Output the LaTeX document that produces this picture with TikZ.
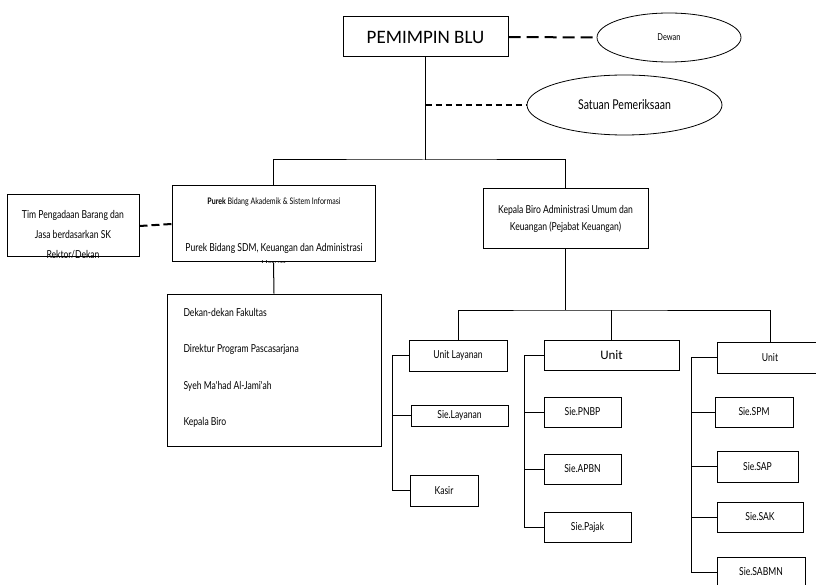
\documentclass[tikz,border=0pt]{standalone}
\usepackage{fontspec}
\setmainfont{Carlito}
\newfontfamily\condfont[FakeStretch=0.78]{Lato}
\usetikzlibrary{positioning}
\usetikzlibrary{shapes.geometric}

\begin{document}
\begin{tikzpicture}
  [x=1pt, y=-1pt, line width=1pt,
   box/.style = {draw, inner sep=0pt},
   oval/.style = {ellipse, draw, line width=0.8pt, inner sep=0pt},
   txt/.style = {font=\condfont\fontsize{11}{17.5}\selectfont, inner sep=0pt},
   dashline/.style = {dashed, line width=2pt}]
  \useasboundingbox (0,0) rectangle (816,585);

  % top
  \node (pemimpin) [box, minimum width=165, minimum height=40,
    font=\fontsize{19}{19}\selectfont] at (425.5,37) {PEMIMPIN BLU};
  \node (dewan) [oval, minimum width=144, minimum height=49,
    font=\condfont\fontsize{9.5}{9.5}\selectfont] at (669,37.5) {Dewan};
  \node (satuan) [oval, minimum width=195, minimum height=60,
    font=\condfont\fontsize{13.5}{13.5}\selectfont] at (624.5,105) {Satuan Pemeriksaan};
  \coordinate (split) at (424,160);

  \draw [dashline, dash pattern=on 12pt off 6pt] (pemimpin.east) -- (dewan.west);
  \draw [dashline, line width=1.6pt, dash pattern=on 6pt off 4pt]
    (pemimpin.south |- satuan.west) -- (satuan.west);
  \draw (pemimpin.south) -- (pemimpin.south |- split);

  % second level
  \node (tim) [box, minimum width=132, minimum height=62] at (73,226) {};
  \begin{scope}
    \clip (tim.south west) rectangle (tim.north east);
    \node [txt, align=center, font=\condfont\fontsize{11}{20}\selectfont] at (73,235)
      {Tim Pengadaan Barang dan\\Jasa berdasarkan SK\\Rektor/Dekan};
  \end{scope}

  \node (purek) [box, minimum width=203, minimum height=76] at (273.5,224) {};
  \begin{scope}
    \clip (purek.south west) rectangle (purek.north east);
    \node [txt, font=\condfont\fontsize{9}{9}\selectfont] at (274,202)
      {{\bfseries Purek} Bidang Akademik \& Sistem Informasi};
    \node [txt, align=center] at (274,256)
      {Purek Bidang SDM, Keuangan dan Administrasi\\Umum};
  \end{scope}

  \node (kepala) [box, minimum width=165, minimum height=60] at (565.5,219) {};
  \node [txt, align=center] at (kepala) {Kepala Biro Administrasi Umum dan\\Keuangan (Pejabat Keuangan)};

  \draw [dashline, dash pattern=on 8pt off 4pt] (tim.east) -- (purek.west);
  \draw (purek.north) |- (split) -| (kepala.north);

  % dekan
  \node (dekan) [box, minimum width=214, minimum height=152] at (274,370) {};
  \node [txt, align=left, anchor=west, font=\condfont\fontsize{11}{36.5}\selectfont]
    at (183,368) {Dekan-dekan Fakultas\\Direktur Program Pascasarjana\\Syeh Ma'had Al-Jami'ah\\Kepala Biro};
  \draw (purek.south) -- (dekan.north);

  % units
  \node (unitL) [box, txt, minimum width=98, minimum height=31] at (458,355.5) {Unit Layanan};
  \node (unitM) [box, minimum width=135, minimum height=30,
    font=\fontsize{13}{13}\selectfont] at (611.5,355) {Unit};
  \node (unitR) [box, txt, minimum width=106, minimum height=31] at (770,357.5) {Unit};
  \coordinate (split2) at (567,310);

  \draw (kepala.south) -- (kepala.south |- split2);
  \draw (unitL.north) |- (split2) -| (unitR.north);
  \draw (unitM.north |- split2) -- (unitM.north);

  % unit layanan
  \node (sieL) [box, txt, minimum width=97, minimum height=21] at (459.5,415.5) {Sie.Layanan};
  \node (kasir) [box, txt, minimum width=68, minimum height=31] at (444,490.5) {Kasir};
  \draw (unitL.west) -- ++(-16,0) coordinate (lTop) |- (kasir.west);
  \draw (lTop |- sieL.west) -- (sieL.west);

  % unit tengah
  \node (pnbp) [box, txt, minimum width=77, minimum height=30] at (582.5,412) {Sie.PNBP};
  \node (apbn) [box, txt, minimum width=77, minimum height=30] at (582.5,469) {Sie.APBN};
  \node (pajak) [box, txt, minimum width=87, minimum height=30] at (587.5,527) {Sie.Pajak};
  \draw (unitM.west) -- ++(-19,0) coordinate (mTop) |- (pajak.west);
  \draw (mTop |- pnbp.west) -- (pnbp.west);
  \draw (mTop |- apbn.west) -- (apbn.west);

  % unit kanan
  \node (spm) [box, txt, minimum width=78, minimum height=30] at (754,412) {Sie.SPM};
  \node (sap) [box, txt, minimum width=81, minimum height=31] at (757.5,466.5) {Sie.SAP};
  \node (sak) [box, txt, minimum width=86, minimum height=30] at (760,517) {Sie.SAK};
  \node (sabmn) [box, txt, minimum width=88, minimum height=30] at (761,572) {Sie.SABMN};
  \draw (unitR.west) -- ++(-25,0) coordinate (rTop) |- (sabmn.west);
  \draw (rTop |- spm.west) -- (spm.west);
  \draw (rTop |- sap.west) -- (sap.west);
  \draw (rTop |- sak.west) -- (sak.west);
\end{tikzpicture}
\end{document}
